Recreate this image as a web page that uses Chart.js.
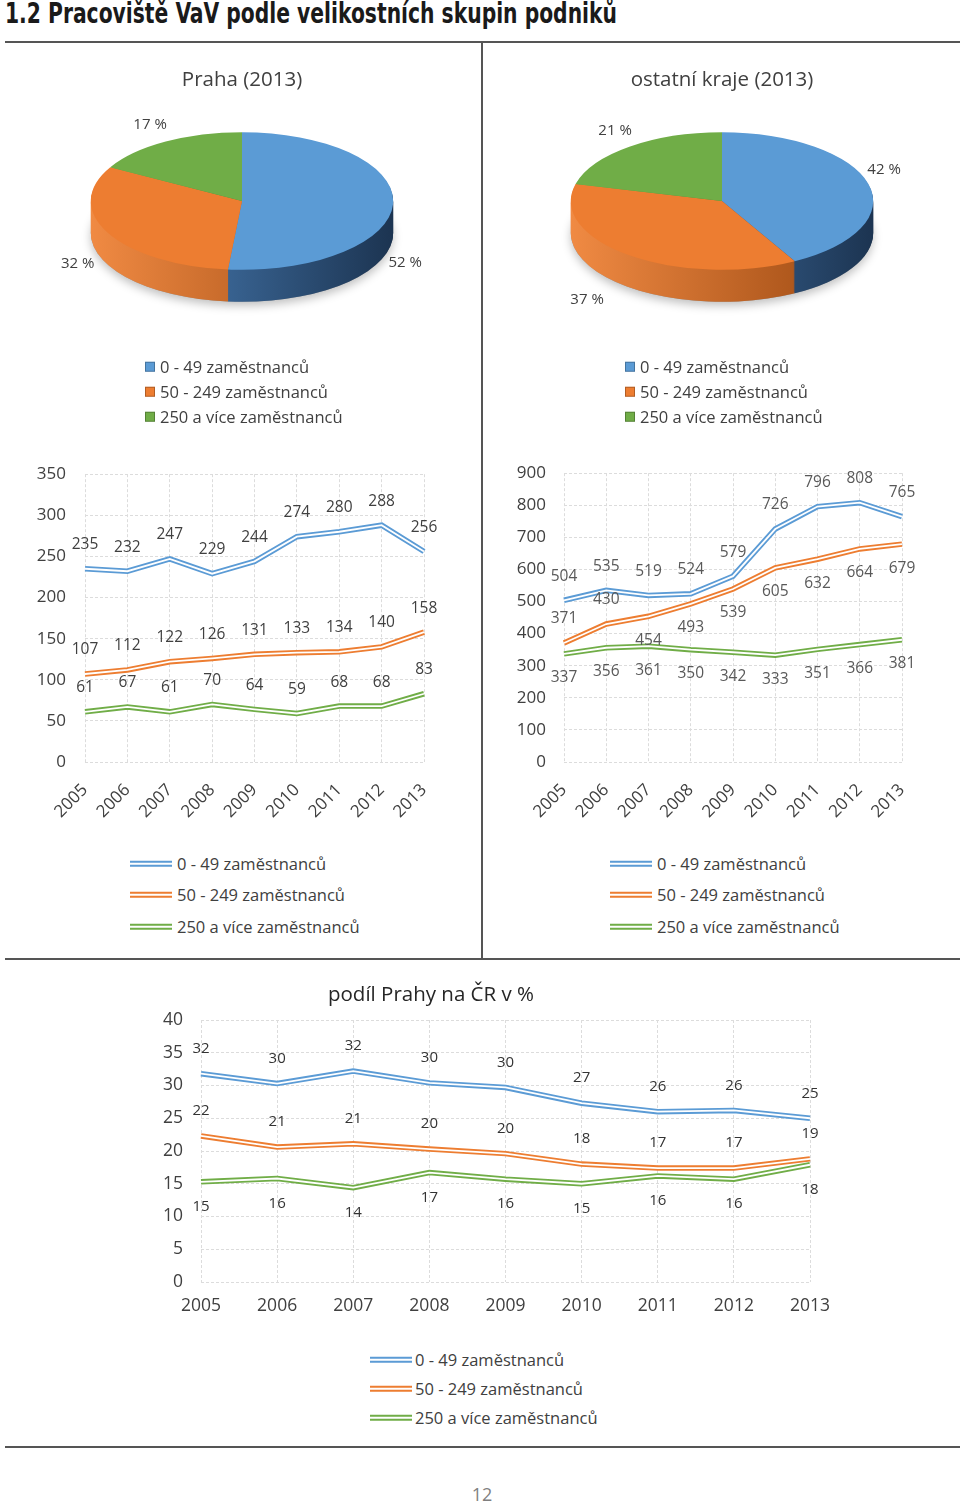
<!DOCTYPE html>
<html lang="cs">
<head>
<meta charset="utf-8">
<title>1.2 Pracoviště VaV podle velikostních skupin podniků</title>
<script src="https://cdn.jsdelivr.net/npm/chart.js@4.4.1/dist/chart.umd.min.js"></script>
<style>
html,body{margin:0;padding:0;background:#fff;}
body{position:relative;width:960px;height:1503px;overflow:hidden;font-family:'Open Sans',sans-serif;color:#404040;}
#pageTitle{position:absolute;left:5px;top:0;margin:0;font-family:'Liberation Sans Narrow','DejaVu Sans Condensed',sans-serif;font-weight:bold;font-size:28px;line-height:28px;color:#1a1a1a;white-space:nowrap;transform-origin:0 0;}
.rule{position:absolute;background:#555;}
.box{position:absolute;}
.box canvas{display:block;}
.legend{position:absolute;top:0;font-size:16.5px;line-height:1;color:#404040;}
.legend .row{position:absolute;left:0;display:flex;align-items:center;white-space:nowrap;transform:translateY(-50%);}
.sq{width:10px;height:10px;margin-right:5px;box-sizing:border-box;border:1px solid rgba(0,0,0,0.25);}
.dbl{width:42px;height:2px;box-sizing:content-box;border-top:2px solid;border-bottom:2px solid;background:#fff;margin-right:5px;}
#pageNo{position:absolute;left:0;width:964px;top:1482px;text-align:center;font-size:18px;line-height:24px;color:#7f7f7f;}
</style>
</head>
<body>
<div id="pageTitle">1.2 Pracoviště VaV podle velikostních skupin podniků</div>
<div class="rule" style="left:5px;top:41px;width:955px;height:2px"></div>
<div class="rule" style="left:481px;top:42px;width:2px;height:917px"></div>
<div class="rule" style="left:5px;top:958px;width:955px;height:2px"></div>
<div class="rule" style="left:5px;top:1446px;width:955px;height:2px"></div>

<div class="box" style="left:6px;top:45px"><canvas id="piePraha" width="476" height="360"></canvas></div>
<div class="box" style="left:506px;top:45px"><canvas id="pieKraje" width="454" height="360"></canvas></div>
<div class="box" style="left:0;top:445px"><canvas id="linePraha" width="482" height="390"></canvas></div>
<div class="box" style="left:482px;top:445px"><canvas id="lineKraje" width="478" height="390"></canvas></div>
<div class="box" style="left:52px;top:977px"><canvas id="lineShare" width="908" height="345"></canvas></div>

<div class="legend" id="legPiePraha" style="left:145px"></div>
<div class="legend" id="legPieKraje" style="left:625px"></div>
<div class="legend" id="legLinePraha" style="left:130px"></div>
<div class="legend" id="legLineKraje" style="left:610px"></div>
<div class="legend" id="legLineShare" style="left:370px"></div>

<div id="pageNo">12</div>

<script>
// ---------------- DATA ----------------
const years = ['2005','2006','2007','2008','2009','2010','2011','2012','2013'];
const groupNames = ['0 - 49 zaměstnanců','50 - 249 zaměstnanců','250 a více zaměstnanců'];

const prahaShares = [52, 32, 17];
const krajeShares = [42, 37, 21];

const prahaSmall  = [235, 232, 247, 229, 244, 274, 280, 288, 256];
const prahaMedium = [107, 112, 122, 126, 131, 133, 134, 140, 158];
const prahaLarge  = [61, 67, 61, 70, 64, 59, 68, 68, 83];

const krajeSmall  = [504, 535, 519, 524, 579, 726, 796, 808, 765];
const krajeMedium = [371, 430, 454, 493, 539, 605, 632, 664, 679];
const krajeLarge  = [337, 356, 361, 350, 342, 333, 351, 366, 381];

const shareSmall  = [31.8, 30.3, 32.2, 30.4, 29.7, 27.3, 26.0, 26.2, 25.0];
const shareMedium = [22.3, 20.6, 21.1, 20.3, 19.6, 18.0, 17.4, 17.4, 18.8];
const shareLarge  = [15.3, 15.8, 14.4, 16.7, 15.7, 15.0, 16.2, 15.7, 17.9];

const prahaYTicks = [0, 50, 100, 150, 200, 250, 300, 350];
const krajeYTicks = [0, 100, 200, 300, 400, 500, 600, 700, 800, 900];
const shareYTicks = [0, 5, 10, 15, 20, 25, 30, 35, 40];

// ---------------- STYLE ----------------
const colors = ['#5b9bd5', '#ed7d31', '#70ad47'];
const sideShades = [['#4f88c4', '#1c3451'], ['#f08a43', '#98460f'], ['#6ea945', '#375c21']];

Chart.defaults.font.family = "'Open Sans', sans-serif";
Chart.defaults.color = '#404040';
Chart.defaults.animation = false;

// ---------------- PLUGINS ----------------
const pie3d = {
  id: 'pie3d',
  beforeDatasetsDraw(chart, args, o) {
    const arcs = chart.getDatasetMeta(0).data;
    if (!arcs.length) return;
    const cx = arcs[0].x, cy = arcs[0].y, r = arcs[0].outerRadius;
    const ctx = chart.ctx;
    const ty = o.centerY;
    const grads = arcs.map((a, i) => {
      const g = ctx.createLinearGradient(cx - r, 0, cx + r, 0);
      g.addColorStop(0, o.side[i][0]);
      g.addColorStop(1, o.side[i][1]);
      return g;
    });
    // soft shadow under the disc
    ctx.save();
    ctx.translate(cx, ty + o.depth); ctx.scale(1, o.tilt); ctx.translate(-cx, -cy);
    ctx.shadowColor = 'rgba(0,0,0,0.25)'; ctx.shadowBlur = 10; ctx.shadowOffsetY = 4;
    ctx.beginPath(); ctx.arc(cx, cy, r, 0, Math.PI * 2); ctx.fillStyle = '#999'; ctx.fill();
    ctx.restore();
    // side wall
    for (let d = o.depth; d >= 1; d -= 1) {
      ctx.save();
      ctx.translate(cx, ty + d); ctx.scale(1, o.tilt); ctx.translate(-cx, -cy);
      arcs.forEach((a, i) => {
        ctx.beginPath();
        ctx.moveTo(cx, cy);
        ctx.arc(cx, cy, r, a.startAngle, a.endAngle);
        ctx.closePath();
        ctx.fillStyle = grads[i];
        ctx.fill();
      });
      ctx.restore();
    }
    // tilted top face drawn by Chart.js itself
    ctx.save();
    ctx.translate(cx, ty); ctx.scale(1, o.tilt); ctx.translate(-cx, -cy);
    chart.$pie3dSaved = true;
  },
  afterDatasetsDraw(chart, args, o) {
    const ctx = chart.ctx;
    if (chart.$pie3dSaved) { ctx.restore(); chart.$pie3dSaved = false; }
    const arcs = chart.getDatasetMeta(0).data;
    const data = chart.data.datasets[0].data;
    ctx.save();
    ctx.font = o.labelFont + "px 'Open Sans', sans-serif";
    ctx.fillStyle = o.labelColor;
    ctx.textAlign = 'center';
    ctx.textBaseline = 'middle';
    arcs.forEach((a, i) => {
      const m = (a.startAngle + a.endAngle) / 2;
      const R = a.outerRadius * o.labelRadius;
      const x = a.x + R * Math.cos(m) + o.nudges[i][0];
      const y = o.centerY + R * Math.sin(m) * o.tilt + o.nudges[i][1];
      ctx.fillText(data[i] + ' %', x, y);
    });
    ctx.restore();
  }
};

const doubleLine = {
  id: 'doubleLine',
  afterDatasetDraw(chart, args, o) {
    const pts = args.meta.data;
    if (!pts.length) return;
    const ctx = chart.ctx;
    ctx.save();
    ctx.beginPath();
    pts.forEach((p, i) => i ? ctx.lineTo(p.x, p.y) : ctx.moveTo(p.x, p.y));
    ctx.strokeStyle = '#ffffff';
    ctx.lineWidth = o.gap;
    ctx.lineJoin = 'miter';
    ctx.stroke();
    ctx.restore();
  }
};

const valueLabels = {
  id: 'valueLabels',
  afterDatasetsDraw(chart, args, o) {
    const ctx = chart.ctx;
    ctx.save();
    ctx.font = o.size + "px 'Open Sans', sans-serif";
    ctx.fillStyle = o.color;
    ctx.textAlign = 'center';
    ctx.textBaseline = 'middle';
    chart.data.datasets.forEach((ds, di) => {
      const meta = chart.getDatasetMeta(di);
      meta.data.forEach((p, i) => {
        const pos = Array.isArray(ds.labelPos) ? ds.labelPos[i] : ds.labelPos;
        const dy = pos === 'below' ? o.offset : -o.offset;
        ctx.fillText(String(Math.round(ds.data[i])), p.x, p.y + dy);
      });
    });
    ctx.restore();
  }
};

// ---------------- CHART BUILDERS ----------------
function makePie(id, title, shares, padL, padR, nudges) {
  return new Chart(document.getElementById(id), {
    type: 'pie',
    data: {
      labels: groupNames,
      datasets: [{ data: shares, backgroundColor: colors, borderWidth: 0 }]
    },
    options: {
      responsive: false,
      animation: false,
      events: [],
      layout: { padding: { left: padL, right: padR, top: 0, bottom: 0 } },
      plugins: {
        legend: { display: false },
        tooltip: { enabled: false },
        title: {
          display: true, text: title, color: '#404040',
          font: { size: 20.5, weight: 'normal' },
          padding: { top: 23, bottom: 10 }
        },
        pie3d: {
          tilt: 0.455, depth: 32, centerY: 156, labelRadius: 1.1,
          side: sideShades, nudges: nudges, labelFont: 15, labelColor: '#404040'
        }
      }
    },
    plugins: [pie3d]
  });
}

function makeLine(id, cfg) {
  return new Chart(document.getElementById(id), {
    type: 'line',
    data: {
      labels: years,
      datasets: cfg.series.map((s, i) => ({
        label: groupNames[i],
        data: s,
        borderColor: colors[i],
        backgroundColor: colors[i],
        borderWidth: 5.5,
        pointRadius: 0,
        tension: 0,
        fill: false,
        labelPos: cfg.labelPos[i]
      }))
    },
    options: {
      responsive: false,
      animation: false,
      events: [],
      layout: { padding: cfg.padding },
      plugins: {
        legend: { display: false },
        tooltip: { enabled: false },
        title: cfg.title ? {
          display: true, text: cfg.title, color: '#262626',
          font: { size: 20.5, weight: 'normal' },
          padding: { top: 6, bottom: 12.4 }
        } : { display: false },
        doubleLine: { gap: 1.8 },
        valueLabels: { size: cfg.labelSize, color: cfg.labelColor, offset: cfg.labelOffset }
      },
      scales: {
        x: {
          type: 'category',
          offset: false,
          grid: { display: true, color: '#dcdcdc', drawTicks: false },
          border: { display: false, dash: [3, 2] },
          ticks: {
            autoSkip: false,
            minRotation: cfg.rotation, maxRotation: cfg.rotation,
            padding: cfg.xPad, color: '#404040',
            font: { size: cfg.tickSize }
          },
          afterFit(s) { s.height = cfg.xHeight; }
        },
        y: {
          min: cfg.yTicks[0], max: cfg.yTicks[cfg.yTicks.length - 1],
          grid: { display: true, color: '#dcdcdc', drawTicks: false },
          border: { display: false, dash: [3, 2] },
          ticks: { padding: cfg.yPad, color: '#404040', font: { size: cfg.tickSize } },
          afterBuildTicks(s) { s.ticks = cfg.yTicks.map(v => ({ value: v })); },
          afterFit(s) { s.width = cfg.yWidth; }
        }
      }
    },
    plugins: [doubleLine, valueLabels]
  });
}

// ---------------- HTML LEGENDS (from the charts' own legend items) ----------------
function pieLegend(chart, elId, rows) {
  const el = document.getElementById(elId);
  const items = chart.options.plugins.legend.labels.generateLabels(chart);
  items.forEach((it, i) => {
    const row = document.createElement('div');
    row.className = 'row';
    row.style.top = rows[i] + 'px';
    const sq = document.createElement('span');
    sq.className = 'sq';
    sq.style.background = it.fillStyle;
    const tx = document.createElement('span');
    tx.textContent = it.text;
    row.appendChild(sq); row.appendChild(tx);
    el.appendChild(row);
  });
}
function lineLegend(chart, elId, rows, gap) {
  const el = document.getElementById(elId);
  const items = Chart.defaults.plugins.legend.labels.generateLabels(chart);
  items.forEach((it, i) => {
    const row = document.createElement('div');
    row.className = 'row';
    row.style.top = rows[i] + 'px';
    const sm = document.createElement('span');
    sm.className = 'dbl';
    sm.style.borderColor = it.strokeStyle;
    sm.style.marginRight = gap + 'px';
    const tx = document.createElement('span');
    tx.textContent = it.text;
    row.appendChild(sm); row.appendChild(tx);
    el.appendChild(row);
  });
}

// ---------------- BUILD ----------------
const piePraha = makePie('piePraha', 'Praha (2013)', prahaShares, 84, 88,
  [[-3, 58], [-17, 28], [-8, -11]]);
const pieKraje = makePie('pieKraje', 'ostatní kraje (2013)', krajeShares, 64, 86,
  [[1, -12], [-33, 39], [-5, -10]]);

const linePraha = makeLine('linePraha', {
  series: [prahaSmall, prahaMedium, prahaLarge],
  labelPos: ['above', 'above', 'above'],
  yTicks: prahaYTicks,
  padding: { left: 0, right: 58, top: 8, bottom: 0 },
  yWidth: 85, xHeight: 73, yPad: 19, xPad: 18, rotation: 45,
  tickSize: 17, labelSize: 15.5, labelColor: '#404040', labelOffset: 24
});
const lineKraje = makeLine('lineKraje', {
  series: [krajeSmall, krajeMedium, krajeLarge],
  labelPos: ['above', ['above', 'above', 'below', 'below', 'below', 'below', 'below', 'below', 'below'], 'below'],
  yTicks: krajeYTicks,
  padding: { left: 0, right: 58, top: 8, bottom: 0 },
  yWidth: 82, xHeight: 73, yPad: 18, xPad: 18, rotation: 45,
  tickSize: 17, labelSize: 15.5, labelColor: '#595959', labelOffset: 24
});
const lineShare = makeLine('lineShare', {
  title: 'podíl Prahy na ČR v %',
  series: [shareSmall, shareMedium, shareLarge],
  labelPos: ['above', 'above', 'below'],
  yTicks: shareYTicks,
  padding: { left: 0, right: 150, top: 0, bottom: 0 },
  yWidth: 149, xHeight: 40, yPad: 18, xPad: 14, rotation: 0,
  tickSize: 17.5, labelSize: 15, labelColor: '#333333', labelOffset: 25
});

pieLegend(piePraha, 'legPiePraha', [367, 392, 417]);
pieLegend(pieKraje, 'legPieKraje', [367, 392, 417]);
lineLegend(linePraha, 'legLinePraha', [864, 895, 927], 5);
lineLegend(lineKraje, 'legLineKraje', [864, 895, 927], 5);
lineLegend(lineShare, 'legLineShare', [1360, 1389, 1418], 3);

// fit the page heading to its width in the reference
const t = document.getElementById('pageTitle');
const w = t.getBoundingClientRect().width;
if (w > 0) t.style.transform = 'scaleX(' + (612 / w) + ')';
</script>
</body>
</html>
